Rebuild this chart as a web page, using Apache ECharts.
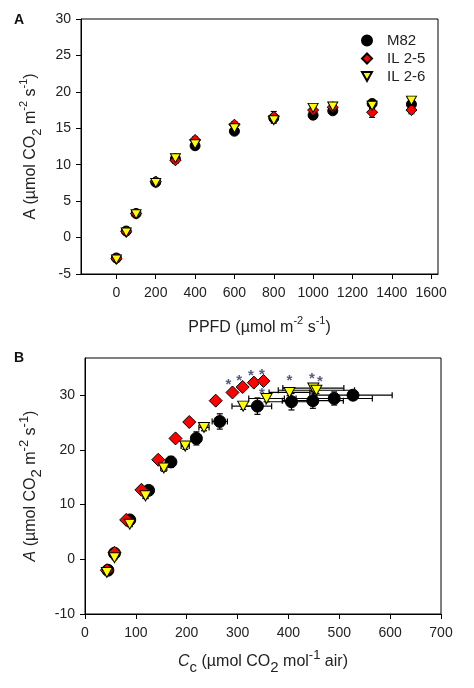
<!DOCTYPE html>
<html>
<head>
<meta charset="utf-8">
<script src="https://cdn.jsdelivr.net/npm/echarts@6/dist/echarts.min.js"></script>
<style>
  html, body { margin: 0; padding: 0; background: #fff; }
  #main { width: 474px; height: 688px; }
</style>
</head>
<body>
<div id="main"></div>
<script>
// Panel A: light response
const ppfd = [0, 50, 100, 200, 300, 400, 600, 800, 1000, 1100, 1300, 1500];
const m82A = [-2.8, 0.9, 3.3, 7.6, 10.8, 12.6, 14.6, 16.4, 16.8, 17.4, 18.4, 18.3];
const il25A = [-2.9, 0.8, 3.3, 7.7, 10.6, 13.4, 15.5, 16.6, 17.5, 17.9, 17.2, 17.5];
const il26A = [-3.0, 0.7, 3.2, 7.5, 10.9, 12.8, 15.0, 16.1, 17.8, 18.0, 18.1, 18.8];
const m82AErr = [0.3, 0.3, 0.3, 0.3, 0.3, 0.4, 0.4, 0.4, 0.5, 0.4, 0.5, 0.5];
const il25AErr = [0.3, 0.3, 0.3, 0.3, 0.4, 0.4, 0.4, 0.7, 0.4, 0.4, 0.7, 0.5];
const il26AErr = [0.3, 0.3, 0.3, 0.3, 0.3, 0.4, 0.4, 0.4, 0.4, 0.4, 0.4, 0.4];

// Panel B: A/Cc response
const m82Cc = [45, 58, 88, 125, 169, 219, 265, 339, 406, 448, 490, 527];
const m82B = [-2.0, 1.1, 7.2, 12.6, 17.8, 22.1, 25.2, 28.0, 28.8, 29.0, 29.4, 30.0];
const m82CcErr = [3, 3, 4, 6, 8, 10, 15, 28, 50, 60, 75, 77];
const m82BErr = [0.3, 0.4, 0.5, 0.6, 1.0, 1.2, 1.4, 1.5, 1.5, 1.4, 1.2, 0.8];

const il25Cc = [43, 58, 81, 111, 144, 178, 205, 257, 290, 310, 332, 351];
const il25B = [-2.0, 1.2, 7.2, 12.7, 18.2, 22.1, 25.1, 29.0, 30.5, 31.5, 32.3, 32.6];

const il26Cc = [43, 58, 88, 119, 155, 197, 234, 311, 357, 402, 449, 455];
const il26B = [-2.4, 0.3, 6.4, 11.6, 16.7, 20.7, 24.1, 28.0, 29.4, 30.5, 31.3, 30.9];
const il26CcErr = [2, 3, 4, 5, 6, 8, 10, 22, 35, 40, 60, 75];
const il26BErr = [0.3, 0.3, 0.4, 0.5, 0.6, 0.6, 0.6, 0.6, 0.6, 0.6, 0.6, 0.6];

// significance asterisks
const starX = [282, 303, 326, 348, 348, 402, 446, 462];
const starY = [32.6, 33.3, 34.2, 34.5, 30.9, 33.3, 33.7, 33.2];

const ticksAX = [0, 200, 400, 600, 800, 1000, 1200, 1400, 1600];
const ticksBY = [-10, 0, 10, 20, 30];

const FONT = 'Liberation Sans';
const downTri = 'path://M0,0 L10,0 L5,9 Z';

function richText(supSize, subSize) {
  return {
    n: { fontSize: 16, fontFamily: FONT, color: '#222', lineHeight: 26, verticalAlign: 'middle' },
    i: { fontSize: 16, fontFamily: FONT, color: '#222', fontStyle: 'italic', lineHeight: 26, verticalAlign: 'middle' },
    sup: { fontSize: supSize, fontFamily: FONT, color: '#222', lineHeight: 26, verticalAlign: 'top' },
    sub: { fontSize: subSize, fontFamily: FONT, color: '#222', lineHeight: 26, verticalAlign: 'bottom' }
  };
}
const richA = richText(11, 13);
const richB = richText(13, 15);

function zip(xs, ys, xe, ye) {
  return xs.map((x, i) => [x, ys[i], xe ? xe[i] : 0, ye ? ye[i] : 0]);
}

function errRender(params, api) {
  const x = api.value(0), y = api.value(1), xe = api.value(2), ye = api.value(3);
  const cap = 3;
  const style = { stroke: '#000', lineWidth: 1.2 };
  const kids = [];
  const seg = (x1, y1, x2, y2) => kids.push({ type: 'line', shape: { x1, y1, x2, y2 }, style });
  if (ye > 0) {
    const a = api.coord([x, y - ye]), b = api.coord([x, y + ye]);
    seg(a[0], a[1], b[0], b[1]);
    seg(a[0] - cap, a[1], a[0] + cap, a[1]);
    seg(b[0] - cap, b[1], b[0] + cap, b[1]);
  }
  if (xe > 0) {
    const a = api.coord([x - xe, y]), b = api.coord([x + xe, y]);
    seg(a[0], a[1], b[0], b[1]);
    seg(a[0], a[1] - cap, a[0], a[1] + cap);
    seg(b[0], b[1] - cap, b[0], b[1] + cap);
  }
  return { type: 'group', children: kids };
}

function errSeries(data, gi) {
  return {
    type: 'custom', xAxisIndex: gi, yAxisIndex: gi, z: 1,
    renderItem: errRender, data: data, encode: { x: 0, y: 1 }, silent: true
  };
}

const plain = v => String(v);

const axisCommon = {
  axisLine: { onZero: false, lineStyle: { color: '#000', width: 1 } },
  axisTick: { lineStyle: { color: '#000' }, length: 5 },
  axisLabel: { color: '#222', fontSize: 14, fontFamily: FONT, formatter: plain },
  splitLine: { show: false }
};

const chart = echarts.init(document.getElementById('main'));

chart.setOption({
  animation: false,
  backgroundColor: '#fff',
  grid: [
    { left: 81, right: 36, top: 19, height: 255, show: true, borderColor: '#000', borderWidth: 1 },
    { left: 85, right: 33, top: 358, height: 256, show: true, borderColor: '#000', borderWidth: 1 }
  ],
  legend: {
    data: [
      { name: 'M82', icon: 'circle' },
      { name: 'IL 2-5', icon: 'diamond' },
      { name: 'IL 2-6', icon: downTri }
    ],
    orient: 'vertical',
    left: 356, top: 28,
    itemWidth: 10, itemHeight: 10, itemGap: 3,
    textStyle: { fontSize: 15, fontFamily: FONT, color: '#222', padding: [0, 0, 0, 10] }
  },
  xAxis: [
    Object.assign({}, axisCommon, {
      gridIndex: 0, type: 'value', min: -180, max: 1635,
      axisLabel: Object.assign({}, axisCommon.axisLabel, { customValues: ticksAX, margin: 12 }),
      axisTick: Object.assign({}, axisCommon.axisTick, { customValues: ticksAX }),
      name: '{n|PPFD (µmol m}{sup|-2}{n| s}{sup|-1}{n|)}',
      nameLocation: 'middle', nameGap: 41,
      nameTextStyle: { rich: richA }
    }),
    Object.assign({}, axisCommon, {
      gridIndex: 1, type: 'value', min: 0, max: 700, interval: 100,
      axisLabel: Object.assign({}, axisCommon.axisLabel, { margin: 12 }),
      name: '{i|C}{sub|c}{n| (µmol CO}{sub|2}{n| mol}{sup|-1}{n| air)}',
      nameLocation: 'middle', nameGap: 35,
      nameTextStyle: { rich: richB }
    })
  ],
  yAxis: [
    Object.assign({}, axisCommon, {
      gridIndex: 0, type: 'value', min: -5, max: 30, interval: 5,
      axisLabel: Object.assign({}, axisCommon.axisLabel, { margin: 10 }),
      name: '{n|A (µmol CO}{sub|2}{n| m}{sup|-2}{n| s}{sup|-1}{n|)}',
      nameLocation: 'middle', nameGap: 37, nameRotate: 90,
      nameTextStyle: { rich: richA }
    }),
    Object.assign({}, axisCommon, {
      gridIndex: 1, type: 'value', min: -10, max: 36.8,
      axisLabel: Object.assign({}, axisCommon.axisLabel, { customValues: ticksBY, margin: 10 }),
      axisTick: Object.assign({}, axisCommon.axisTick, { customValues: ticksBY }),
      name: '{i|A}{n| (µmol CO}{sub|2}{n| m}{sup|-2}{n| s}{sup|-1}{n|)}',
      nameLocation: 'middle', nameGap: 31, nameRotate: 90,
      nameTextStyle: { rich: richB }
    })
  ],
  graphic: [
    { type: 'text', left: 14, top: 13, style: { text: 'A', font: 'bold 14px ' + FONT, fill: '#111' } },
    { type: 'text', left: 14, top: 351, style: { text: 'B', font: 'bold 14px ' + FONT, fill: '#111' } }
  ],
  series: [
    errSeries(zip(ppfd, m82A, null, m82AErr), 0),
    errSeries(zip(ppfd, il25A, null, il25AErr), 0),
    errSeries(zip(ppfd, il26A, null, il26AErr), 0),
    {
      name: 'M82', type: 'scatter', xAxisIndex: 0, yAxisIndex: 0, z: 2,
      symbol: 'circle', symbolSize: 10,
      itemStyle: { color: '#000', borderColor: '#000', borderWidth: 1, opacity: 1 },
      data: zip(ppfd, m82A).map(d => [d[0], d[1]])
    },
    {
      name: 'IL 2-5', type: 'scatter', xAxisIndex: 0, yAxisIndex: 0, z: 3,
      symbol: 'diamond', symbolSize: 11,
      itemStyle: { color: '#ff0000', borderColor: '#000', borderWidth: 1, opacity: 1 },
      data: zip(ppfd, il25A).map(d => [d[0], d[1]])
    },
    {
      name: 'IL 2-6', type: 'scatter', xAxisIndex: 0, yAxisIndex: 0, z: 4,
      symbol: downTri, symbolSize: [10, 9],
      itemStyle: { color: '#ffff00', borderColor: '#000', borderWidth: 1, opacity: 1 },
      data: zip(ppfd, il26A).map(d => [d[0], d[1]])
    },
    errSeries(zip(m82Cc, m82B, m82CcErr, m82BErr), 1),
    errSeries(zip(il26Cc, il26B, il26CcErr, il26BErr), 1),
    {
      name: 'M82', type: 'scatter', xAxisIndex: 1, yAxisIndex: 1, z: 2,
      symbol: 'circle', symbolSize: 12,
      itemStyle: { color: '#000', borderColor: '#000', borderWidth: 1, opacity: 1 },
      data: zip(m82Cc, m82B).map(d => [d[0], d[1]])
    },
    {
      name: 'IL 2-5', type: 'scatter', xAxisIndex: 1, yAxisIndex: 1, z: 3,
      symbol: 'diamond', symbolSize: 13,
      itemStyle: { color: '#ff0000', borderColor: '#000', borderWidth: 1, opacity: 1 },
      data: zip(il25Cc, il25B).map(d => [d[0], d[1]])
    },
    {
      name: 'IL 2-6', type: 'scatter', xAxisIndex: 1, yAxisIndex: 1, z: 4,
      symbol: downTri, symbolSize: [11, 10],
      itemStyle: { color: '#ffff00', borderColor: '#000', borderWidth: 1, opacity: 1 },
      data: zip(il26Cc, il26B).map(d => [d[0], d[1]])
    },
    {
      type: 'scatter', xAxisIndex: 1, yAxisIndex: 1, z: 5, silent: true,
      symbolSize: 1, itemStyle: { color: 'rgba(0,0,0,0)' },
      label: {
        show: true, position: 'inside', formatter: '*', offset: [0, 4],
        fontSize: 15, fontWeight: 'bold', fontFamily: FONT, color: '#2c3160'
      },
      data: starX.map((x, i) => [x, starY[i]])
    }
  ]
});
</script>
</body>
</html>
